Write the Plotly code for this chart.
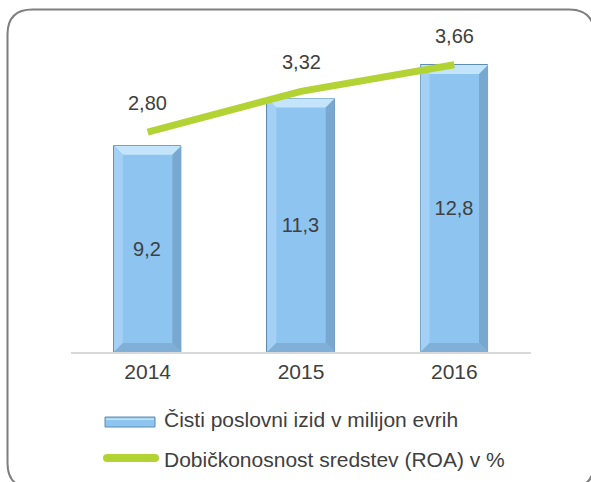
import plotly.graph_objects as go

# ---- data ----
years = ["2014", "2015", "2016"]
net_income = [9.2, 11.3, 12.8]          # Čisti poslovni izid v milijon evrih
roa = [2.80, 3.32, 3.66]                 # Dobičkonosnost sredstev (ROA) v %
series_names = ["Čisti poslovni izid v milijon evrih",
                "Dobičkonosnost sredstev (ROA) v %"]

# ---- style ----
W_PX, H_PX = 591, 482
L, R, T, B = 71, 60, 38, 130
PW, PH = W_PX - L - R, H_PX - T - B
TXT = "#404040"
FONT = "Liberation Sans, Arial, sans-serif"
BAR_FACE = "#8EC4F0"
BAR_EDGE = "#5F8CB3"
BEV_TOP = "#C3E4FA"
BEV_LEFT = "#A3D0F4"
BEV_RIGHT = "#78A7D0"
BEV_BOT = "#80AFD8"
GREEN = "#B3D335"
BAR_W = 0.44
Y1_MAX, Y2_MAX = 14, 4

xs = list(range(len(years)))

fig = go.Figure()
fig.add_trace(go.Bar(
    x=xs, y=net_income, width=BAR_W, name=series_names[0],
    marker=dict(color=BAR_FACE, line=dict(color=BAR_EDGE, width=1)),
    texttemplate="%{y:.1f}", textposition="inside", insidetextanchor="middle",
    textangle=0, textfont=dict(size=20, color=TXT, family=FONT),
    showlegend=False, hoverinfo="skip"))

# bevel facets derived from bar data
bx = 9 / (PW / len(years))
by = 9 / (PH / Y1_MAX)
hw = BAR_W / 2
facets = {BEV_TOP: [], BEV_LEFT: [], BEV_RIGHT: [], BEV_BOT: []}
for i, v in zip(xs, net_income):
    a, b = i - hw, i + hw
    facets[BEV_TOP].append(([a, b, b - bx, a + bx, a], [v, v, v - by, v - by, v]))
    facets[BEV_LEFT].append(([a, a + bx, a + bx, a, a], [v, v - by, by, 0, v]))
    facets[BEV_RIGHT].append(([b, b, b - bx, b - bx, b], [v, 0, by, v - by, v]))
    facets[BEV_BOT].append(([a, b, b - bx, a + bx, a], [0, 0, by, by, 0]))
for col, polys in facets.items():
    fx, fy = [], []
    for px_, py_ in polys:
        fx += px_ + [None]
        fy += py_ + [None]
    fig.add_trace(go.Scatter(x=fx, y=fy, mode="lines", fill="toself",
                             fillcolor=col, line=dict(width=0, color=col),
                             showlegend=False, hoverinfo="skip"))

fig.add_trace(go.Scatter(
    x=xs, y=roa, yaxis="y2", mode="lines", name=series_names[1],
    line=dict(color=GREEN, width=7), showlegend=False, hoverinfo="skip"))

annotations = []
for i, v in zip(xs, roa):
    annotations.append(dict(x=i, y=v, xref="x", yref="y2", showarrow=False,
                            text=f"{v:.2f}".replace(".", ","), yanchor="middle",
                            yshift=29, font=dict(size=20, color=TXT, family=FONT)))


def pp(px, py):
    return (px - L) / PW, (T + PH - py) / PH


# rounded frame
x0, x1, y0, y1, r = 7.5, 594, 9.5, 488, 25
pts = [("M", [(x0 + r, y0)]), ("L", [(x1 - r, y0)]), ("Q", [(x1, y0), (x1, y0 + r)]),
       ("L", [(x1, y1 - r)]), ("Q", [(x1, y1), (x1 - r, y1)]), ("L", [(x0 + r, y1)]),
       ("Q", [(x0, y1), (x0, y1 - r)]), ("L", [(x0, y0 + r)]), ("Q", [(x0, y0), (x0 + r, y0)])]
path = ""
for cmd, cs in pts:
    path += cmd + " ".join("%.5f,%.5f" % pp(*c) for c in cs) + " "
path += "Z"
shapes = [dict(type="path", path=path, xref="paper", yref="paper",
               line=dict(color="#7F7F7F", width=2), fillcolor="rgba(0,0,0,0)", layer="below")]

# custom legend
lx0, ly0 = pp(105, 417)
lx1, ly1 = pp(155, 427)
shapes.append(dict(type="rect", xref="paper", yref="paper", x0=lx0, x1=lx1, y0=ly1, y1=ly0,
                   fillcolor=BAR_FACE, line=dict(color=BAR_EDGE, width=1)))
tx0, ty0 = pp(106, 418.5)
tx1, ty1 = pp(154, 420)
shapes.append(dict(type="rect", xref="paper", yref="paper", x0=tx0, x1=tx1, y0=ty1, y1=ty0,
                   fillcolor=BEV_TOP, line=dict(width=0)))
gx0, gy = pp(107, 458)
gx1, _ = pp(155, 458)
shapes.append(dict(type="line", xref="paper", yref="paper", x0=gx0, x1=gx1, y0=gy, y1=gy,
                   line=dict(color=GREEN, width=8)))
for cx in (107, 155):
    c0x, c0y = pp(cx - 4, 454)
    c1x, c1y = pp(cx + 4, 462)
    shapes.append(dict(type="circle", xref="paper", yref="paper", x0=c0x, x1=c1x,
                       y0=c1y, y1=c0y, fillcolor=GREEN, line=dict(width=0)))
for name, yc in zip(series_names, (419, 459)):
    ax, ay = pp(162, yc)
    annotations.append(dict(x=ax, y=ay, xref="paper", yref="paper", showarrow=False,
                            text=name, xanchor="left", yanchor="middle",
                            font=dict(size=21, color=TXT, family=FONT)))

fig.update_layout(
    width=W_PX, height=H_PX, margin=dict(l=L, r=R, t=T, b=B),
    paper_bgcolor="white", plot_bgcolor="white", separators=", ",
    showlegend=False, bargap=0,
    font=dict(family=FONT, color=TXT),
    xaxis=dict(range=[-0.5, len(years) - 0.5], tickvals=xs, ticktext=years,
               showline=True, linecolor="#D9D9D9", linewidth=2, showgrid=False,
               zeroline=False, ticks="", tickfont=dict(size=21, color=TXT, family=FONT),
               fixedrange=True),
    yaxis=dict(range=[0, Y1_MAX], visible=False, fixedrange=True),
    yaxis2=dict(range=[0, Y2_MAX], overlaying="y", visible=False, fixedrange=True),
    shapes=shapes, annotations=annotations,
)

fig.write_html("out.html", config={"displayModeBar": False},
               post_script="document.body.style.margin='0';document.body.style.overflow='hidden';")
